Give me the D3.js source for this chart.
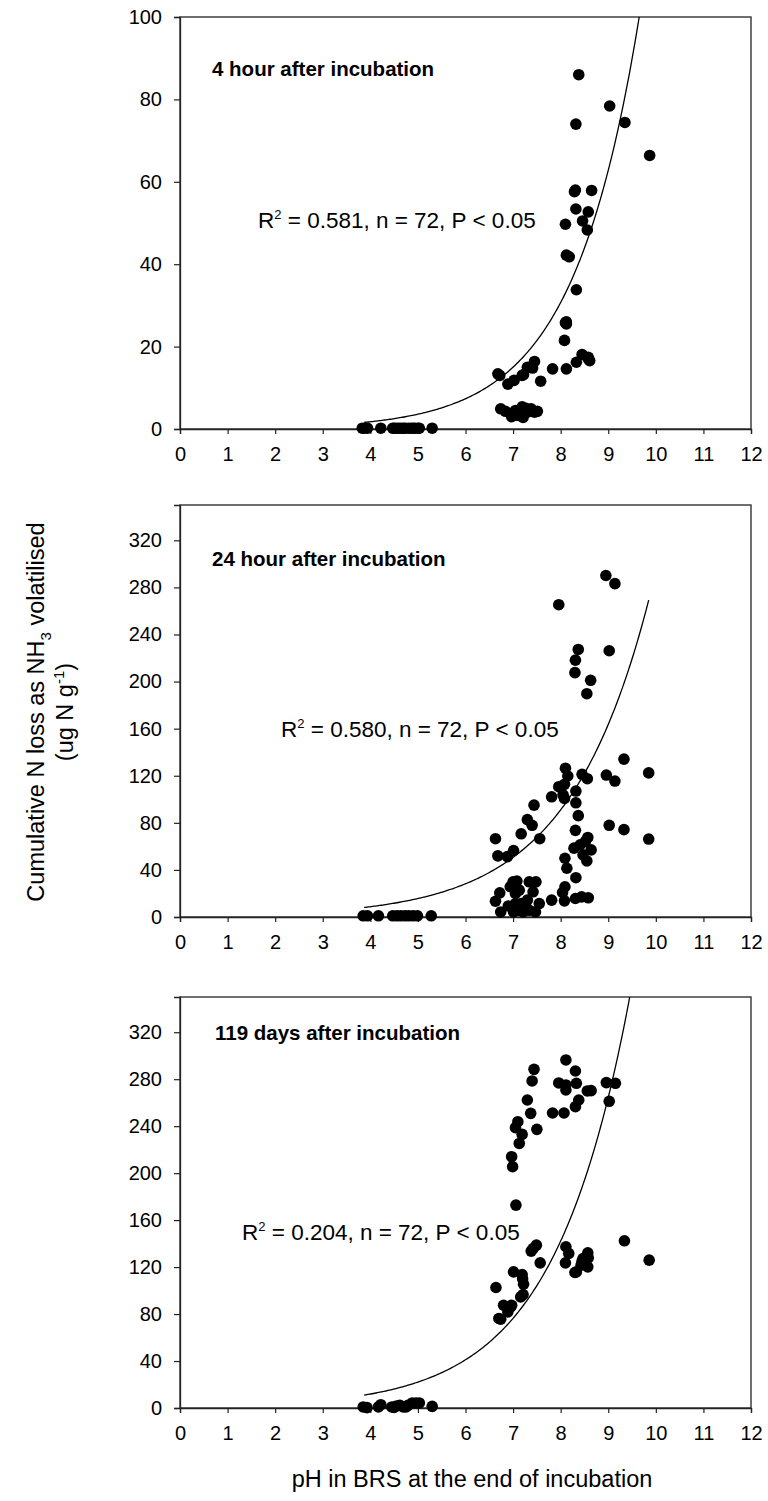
<!DOCTYPE html>
<html>
<head>
<meta charset="utf-8">
<script src="https://d3js.org/d3.v7.min.js"></script>
<style>
  body { margin: 0; background: #fff; }
  text { font-family: "Liberation Sans", Arial, sans-serif; fill: #000; }
</style>
</head>
<body>
<div id="chart"></div>
<script>
// pH values (x) and cumulative N loss (y)
var ph4h = [3.83, 3.94, 4.22, 4.47, 4.60, 4.73, 4.86, 4.94, 5.03, 5.30, 3.88, 4.50, 4.55, 4.65, 4.70, 4.80, 4.90, 5.00,
  6.68, 6.72, 6.89, 7.02, 7.19, 7.30, 7.41, 7.45, 7.58, 7.83,
  6.74, 6.84, 6.97, 7.07, 7.13, 7.19, 7.21, 7.30, 7.38, 7.45, 7.51, 7.24, 7.16, 7.05, 7.27, 7.35, 7.10,
  8.08, 8.12, 8.12, 8.12, 8.33, 8.45, 8.58, 8.61, 8.33, 8.12, 8.18, 8.10, 8.31, 8.32, 8.46, 8.56, 8.58, 8.65,
  8.32, 8.38, 9.03, 9.35, 9.87, 8.10, 8.29, 8.58, 7.22];
var n4h = [0.2, 0.2, 0.2, 0.2, 0.2, 0.2, 0.2, 0.2, 0.2, 0.2, 0.2, 0.2, 0.2, 0.2, 0.2, 0.2, 0.2, 0.2,
  13.4, 13.0, 10.9, 11.8, 13.0, 15.0, 14.8, 16.4, 11.6, 14.6,
  4.9, 4.3, 3.0, 4.1, 4.6, 5.4, 2.8, 4.1, 4.9, 4.1, 4.3, 4.9, 3.6, 4.5, 5.0, 4.5, 3.3,
  21.5, 26.0, 25.5, 14.6, 16.2, 18.1, 17.0, 16.6, 33.8, 42.2, 41.8, 49.7, 58.0, 53.4, 50.5, 48.3, 52.7, 57.9,
  74.0, 86.0, 78.4, 74.4, 66.4, 25.8, 57.6, 17.4, 13.2];

var ph24h = [3.85, 3.94, 4.17, 4.47, 4.56, 4.64, 4.73, 4.81, 4.90, 4.99, 5.28,
  6.63, 6.68, 6.63, 6.72, 6.74, 6.88, 7.01, 7.17, 7.30, 7.40, 7.44, 7.56, 7.81, 7.96, 7.96,
  8.08, 8.10, 8.15, 8.08, 8.05, 8.30, 8.31, 8.37, 8.63, 8.55, 8.45, 8.56, 8.32, 8.32, 8.37, 8.31,
  8.09, 8.13, 8.32, 8.09, 8.04, 8.08, 7.81, 8.31, 8.44, 8.58, 8.28, 8.41, 8.52, 8.57, 8.64, 8.47, 8.55,
  8.95, 9.14, 9.02, 8.96, 9.14, 9.33, 9.85, 9.02, 9.33, 9.85,
  6.94, 7.00, 7.08, 7.13, 7.05, 7.17, 7.05, 6.90, 7.21, 7.34, 7.47, 7.34, 7.48, 7.42, 7.55, 7.30, 7.01, 7.13];
var n24h = [1, 1, 1, 1, 1, 1, 1, 1, 1, 1, 1,
  66.5, 51.9, 13.4, 20.5, 4.3, 51.3, 56.5, 70.7, 82.7, 77.9, 95.0, 66.5, 102.1, 265.3, 110.7,
  100.7, 126.4, 119.8, 112.7, 103.8, 207.6, 218.2, 227.3, 201.1, 189.7, 121.2, 117.5, 107.0, 97.0, 86.1, 73.6,
  49.9, 41.4, 33.4, 25.7, 20.8, 13.7, 14.3, 15.7, 17.1, 16.3, 58.5, 61.3, 64.2, 67.6, 57.0, 52.8, 47.6,
  290.1, 283.2, 226.2, 120.6, 115.5, 134.1, 122.4, 77.9, 74.2, 66.2,
  25.7, 29.9, 30.5, 22.8, 20.0, 11.4, 11.4, 9.4, 4.3, 5.7, 4.3, 29.9, 29.9, 21.4, 11.4, 14.3, 4.3, 5.7];

var ph119d = [3.85, 3.93, 4.17, 4.22, 4.45, 4.55, 4.62, 4.69, 4.79, 4.88, 4.96, 5.03, 5.30, 4.75, 4.50,
  6.64, 6.70, 6.74, 6.80, 6.89, 6.95, 6.97, 7.01, 7.19, 7.22, 7.16, 7.21, 7.06, 6.99, 6.97, 7.05, 7.10,
  7.13, 7.19, 7.30, 7.37, 7.40, 7.44, 7.50, 7.38, 7.42, 7.49, 7.57, 7.83, 7.96, 8.07, 8.11, 8.11, 8.11,
  8.31, 8.33, 8.38, 8.31, 8.56, 8.64, 8.96, 9.15, 9.02, 8.11, 8.17, 8.10, 8.30, 8.33, 8.43, 8.47, 8.57,
  8.58, 8.57, 9.34, 9.86, 8.45, 7.20];
var n119d = [0.9, 0.3, 0.9, 2.8, 0.9, 1.7, 2.3, 0.9, 2.3, 4.3, 4.3, 4.3, 1.4, 1.0, 0.5,
  102.6, 76.2, 75.6, 87.5, 81.8, 86.1, 87.5, 115.9, 113.7, 105.4, 94.6, 96.6, 172.8, 205.5, 214.0, 238.7, 243.8,
  225.3, 233.0, 262.3, 250.9, 278.5, 288.4, 237.3, 133.6, 135.8, 138.7, 123.6, 251.2, 276.8, 251.2, 296.4, 275.1, 270.8,
  287.0, 276.5, 262.3, 256.6, 270.0, 270.3, 277.1, 276.5, 261.2, 137.3, 131.6, 123.6, 115.4, 115.9, 121.6, 127.3, 132.1,
  127.9, 120.2, 142.4, 125.9, 125.0, 110.0];

// exponential fits y = a * exp(b * pH), drawn from pH 3.87 up to the last pH
var fit4h = [0.1004, 0.7154];
var fit24h = [0.838, 0.586];
var fit119d = [0.989, 0.621];

var titles = ["4 hour after incubation", "24 hour after incubation", "119 days after incubation"];
var r2Labels = ["0.581", "0.580", "0.204"];
var xTicks = [0, 1, 2, 3, 4, 5, 6, 7, 8, 9, 10, 11, 12];
var yTicks4h = [0, 20, 40, 60, 80, 100];
var yTicksLong = [0, 40, 80, 120, 160, 200, 240, 280, 320];

var svgWidth = 768;
var svgHeight = 1501;

var svg = d3.select("#chart")
    .append("svg")
    .attr("width", svgWidth)
    .attr("height", svgHeight)
    .style("background", "#fff");

var x = d3.scaleLinear().domain([0, 12]).range([180, 751]);

var panels = [
  { ph: ph4h, n: n4h, fit: fit4h, yMax: 100, ticks: yTicks4h, top: 17, bottom: 429,
    title: titles[0], titleX: 212, titleY: 76, r2: r2Labels[0], r2X: 258, r2Y: 228 },
  { ph: ph24h, n: n24h, fit: fit24h, yMax: 350, ticks: yTicksLong, top: 505, bottom: 917,
    title: titles[1], titleX: 212, titleY: 566, r2: r2Labels[1], r2X: 281, r2Y: 737 },
  { ph: ph119d, n: n119d, fit: fit119d, yMax: 350, ticks: yTicksLong, top: 997, bottom: 1408,
    title: titles[2], titleX: 215, titleY: 1040, r2: r2Labels[2], r2X: 242, r2Y: 1240 }
];

panels.forEach(function(p) {
  var y = d3.scaleLinear().domain([0, p.yMax]).range([p.bottom, p.top]);
  var g = svg.append("g");

  // frame
  g.append("rect")
      .attr("x", x(0))
      .attr("y", p.top)
      .attr("width", x(12) - x(0))
      .attr("height", p.bottom - p.top)
      .attr("fill", "none")
      .attr("stroke", "#222")
      .attr("stroke-width", 1.3);

  // axes
  var xAxis = g.append("g")
      .attr("transform", `translate(0, ${p.bottom})`)
      .call(d3.axisBottom(x).tickValues(xTicks).tickSize(5).tickPadding(13).tickFormat(d3.format("d")));

  var yAxis = g.append("g")
      .attr("transform", `translate(${x(0)}, 0)`)
      .call(d3.axisLeft(y).tickValues(p.ticks).tickSize(6).tickPadding(12).tickFormat(d3.format("d")));

  [xAxis, yAxis].forEach(function(a) {
    a.select(".domain").attr("stroke", "#222").attr("stroke-width", 1.3);
    a.selectAll(".tick line").attr("stroke", "#222").attr("stroke-width", 1.2);
    a.selectAll(".tick text")
        .attr("font-family", "'Liberation Sans', Arial, sans-serif")
        .attr("font-size", "20px")
        .attr("fill", "#000");
  });

  // fitted curve
  var a = p.fit[0], b = p.fit[1];
  var xStart = 3.87;
  var xEnd = Math.min(d3.max(p.ph), Math.log(p.yMax / a) / b);
  var curve = d3.range(0, 201).map(function(i) {
    var ph = xStart + (xEnd - xStart) * i / 200;
    return [ph, a * Math.exp(b * ph)];
  });
  g.append("path")
      .datum(curve)
      .attr("fill", "none")
      .attr("stroke", "#000")
      .attr("stroke-width", 1.3)
      .attr("d", d3.line().x(d => x(d[0])).y(d => y(d[1])));

  // points
  g.selectAll("circle")
      .data(p.ph.map((v, i) => [v, p.n[i]]))
      .enter()
      .append("circle")
      .attr("cx", d => x(d[0]))
      .attr("cy", d => y(d[1]))
      .attr("r", 5.8)
      .attr("fill", "#000");

  // panel title
  g.append("text")
      .attr("x", p.titleX)
      .attr("y", p.titleY)
      .attr("font-size", "20.5px")
      .attr("font-weight", "bold")
      .text(p.title);

  // R2 annotation
  var ann = g.append("text")
      .attr("x", p.r2X)
      .attr("y", p.r2Y)
      .attr("font-size", "22.5px");
  ann.append("tspan").text("R");
  ann.append("tspan").attr("dy", -9).attr("font-size", "13px").text("2");
  ann.append("tspan").attr("dy", 9).text(" = " + p.r2 + ", n = 72, P < 0.05");
});

// axis titles
svg.append("text")
    .attr("x", 472)
    .attr("y", 1487)
    .attr("text-anchor", "middle")
    .attr("font-size", "23.5px")
    .text("pH in BRS at the end of incubation");

var yTitle = svg.append("text")
    .attr("transform", "translate(44, 712) rotate(-90)")
    .attr("text-anchor", "middle")
    .attr("font-size", "23.5px");
yTitle.append("tspan").text("Cumulative N loss as NH");
yTitle.append("tspan").attr("dy", 7).attr("font-size", "15px").text("3");
yTitle.append("tspan").attr("dy", -7).text(" volatilised");

var yTitle2 = svg.append("text")
    .attr("transform", "translate(73, 712) rotate(-90)")
    .attr("text-anchor", "middle")
    .attr("font-size", "23.5px");
yTitle2.append("tspan").text("(ug N g");
yTitle2.append("tspan").attr("dy", -9).attr("font-size", "15px").text("-1");
yTitle2.append("tspan").attr("dy", 9).text(")");
</script>
</body>
</html>
